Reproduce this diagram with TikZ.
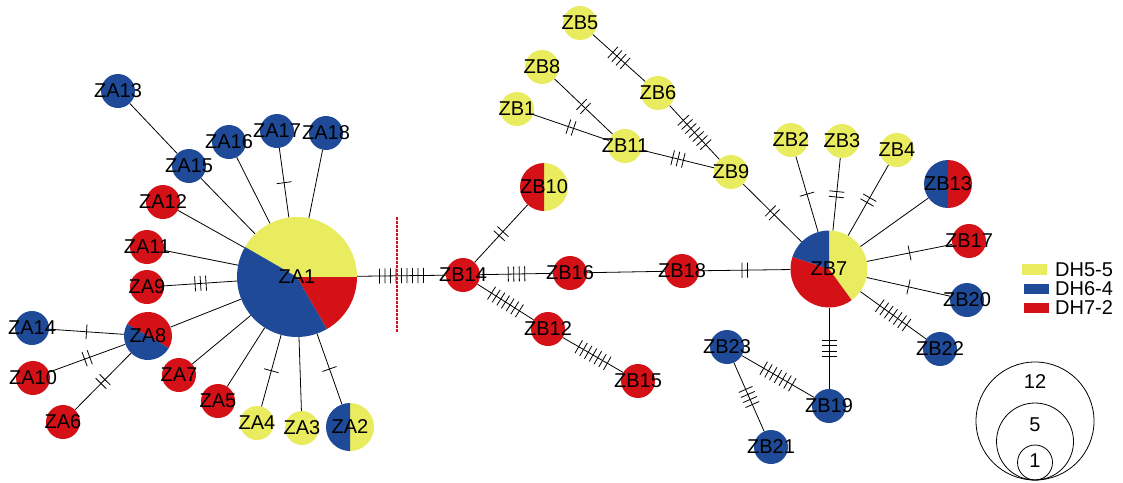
\documentclass[tikz,border=0pt]{standalone}
\usepackage{fontspec}
\setmainfont{Liberation Sans}
\usetikzlibrary{decorations.markings}
\definecolor{hy}{HTML}{EAEC60}
\definecolor{hb}{HTML}{1F4A98}
\definecolor{hr}{HTML}{D51118}
\newcommand\pieslice[5]{\fill[#5] (#1) -- ++(#2:#4) arc[start angle=#2, end angle=#3, radius=#4] -- cycle;}
\newcommand\hl[1]{\makebox[0pt][c]{#1}}
\tikzset{
 hap/.style={circle, inner sep=0pt, minimum size=#1, font=\fontsize{20}{24}\selectfont},
 lab/.style={inner sep=0pt, font=\fontsize{20}{24}\selectfont},
 edge/.style={line width=0.8pt},
 ring/.style={circle, draw, line width=0.8pt, inner sep=0pt, minimum size=#1},
 tk/.style={postaction={decorate,decoration={markings,mark=at position 0.5 with {\foreach \i in {1,...,#1}{\draw[line width=0.8pt] ({(\i-(#1+1)/2)*5.5pt},-7.5pt)--({(\i-(#1+1)/2)*5.5pt},7.5pt);}}}}},
}
\begin{document}
\begin{tikzpicture}[x=1pt,y=-1pt]
\useasboundingbox (0,0) rectangle (1123,482);
% pie slices
\pieslice{297,277}{0}{150}{60pt}{hy}
\pieslice{297,277}{150}{300}{60pt}{hb}
\pieslice{297,277}{300}{360}{60pt}{hr}
\pieslice{148,336}{-30}{150}{24pt}{hr}
\pieslice{148,336}{150}{330}{24pt}{hb}
\pieslice{350,427}{-90}{90}{24pt}{hy}
\pieslice{350,427}{90}{270}{24pt}{hb}
\pieslice{544,187}{-90}{90}{24pt}{hy}
\pieslice{544,187}{90}{270}{24pt}{hr}
\pieslice{948,184}{-90}{90}{24pt}{hr}
\pieslice{948,184}{90}{270}{24pt}{hb}
\pieslice{829,269}{-54}{90}{38.5pt}{hy}
\pieslice{829,269}{90}{162}{38.5pt}{hb}
\pieslice{829,269}{162}{306}{38.5pt}{hr}
% nodes
\node[hap=120pt] (ZA1) at (297,277) {\hl{ZA1}};
\node[hap=48pt] (ZA8) at (148,336) {\hl{ZA8}};
\node[hap=48pt] (ZA2) at (350,427) {\hl{ZA2}};
\node[hap=48pt] (ZB10) at (544,187) {\hl{ZB10}};
\node[hap=48pt] (ZB13) at (948,184) {\hl{ZB13}};
\node[hap=77pt] (ZB7) at (829,269) {\hl{ZB7}};
\node[hap=34pt,fill=hb] (ZA13) at (118,91) {\hl{ZA13}};
\node[hap=34pt,fill=hb] (ZA15) at (189,166) {\hl{ZA15}};
\node[hap=34pt,fill=hb] (ZA16) at (229,142) {\hl{ZA16}};
\node[hap=34pt,fill=hb] (ZA17) at (277,131) {\hl{ZA17}};
\node[hap=34pt,fill=hb] (ZA18) at (326,133) {\hl{ZA18}};
\node[hap=34pt,fill=hr] (ZA12) at (163,202) {\hl{ZA12}};
\node[hap=34pt,fill=hr] (ZA11) at (147,247) {\hl{ZA11}};
\node[hap=34pt,fill=hr] (ZA9) at (147,287) {\hl{ZA9}};
\node[hap=34pt,fill=hb] (ZA14) at (32,328) {\hl{ZA14}};
\node[hap=34pt,fill=hr] (ZA10) at (33,378) {\hl{ZA10}};
\node[hap=34pt,fill=hr] (ZA6) at (63,422) {\hl{ZA6}};
\node[hap=34pt,fill=hr] (ZA7) at (179,375) {\hl{ZA7}};
\node[hap=34pt,fill=hr] (ZA5) at (218,401) {\hl{ZA5}};
\node[hap=34pt,fill=hy] (ZA4) at (257,423) {\hl{ZA4}};
\node[hap=34pt,fill=hy] (ZA3) at (302,428) {\hl{ZA3}};
\node[hap=34pt,fill=hr] (ZB14) at (463,275) {\hl{ZB14}};
\node[hap=34pt,fill=hr] (ZB16) at (570,273) {\hl{ZB16}};
\node[hap=34pt,fill=hr] (ZB12) at (548,329) {\hl{ZB12}};
\node[hap=34pt,fill=hr] (ZB15) at (638,381) {\hl{ZB15}};
\node[hap=34pt,fill=hr] (ZB18) at (682,271) {\hl{ZB18}};
\node[hap=34pt,fill=hy] (ZB5) at (580,23) {\hl{ZB5}};
\node[hap=34pt,fill=hy] (ZB8) at (542,67) {\hl{ZB8}};
\node[hap=34pt,fill=hy] (ZB1) at (517,109) {\hl{ZB1}};
\node[hap=34pt,fill=hy] (ZB6) at (658,93) {\hl{ZB6}};
\node[hap=34pt,fill=hy] (ZB11) at (625,146) {\hl{ZB11}};
\node[hap=34pt,fill=hy] (ZB9) at (731,172) {\hl{ZB9}};
\node[hap=34pt,fill=hy] (ZB2) at (791,140) {\hl{ZB2}};
\node[hap=34pt,fill=hy] (ZB3) at (842,141) {\hl{ZB3}};
\node[hap=34pt,fill=hy] (ZB4) at (897,150) {\hl{ZB4}};
\node[hap=34pt,fill=hr] (ZB17) at (969,241) {\hl{ZB17}};
\node[hap=34pt,fill=hb] (ZB20) at (967,300) {\hl{ZB20}};
\node[hap=34pt,fill=hb] (ZB22) at (940,349) {\hl{ZB22}};
\node[hap=34pt,fill=hb] (ZB23) at (727,347) {\hl{ZB23}};
\node[hap=34pt,fill=hb] (ZB19) at (829,406) {\hl{ZB19}};
\node[hap=34pt,fill=hb] (ZB21) at (771,447) {\hl{ZB21}};
% edges
\draw[edge] (ZA13) -- (ZA15);
\draw[edge] (ZA15) -- (ZA1);
\draw[edge] (ZA16) -- (ZA1);
\draw[edge,tk=1] (ZA17) -- (ZA1);
\draw[edge] (ZA18) -- (ZA1);
\draw[edge] (ZA12) -- (ZA1);
\draw[edge] (ZA11) -- (ZA1);
\draw[edge,tk=3] (ZA9) -- (ZA1);
\draw[edge] (ZA8) -- (ZA1);
\draw[edge,tk=1] (ZA14) -- (ZA8);
\draw[edge,tk=2] (ZA10) -- (ZA8);
\draw[edge,tk=2] (ZA6) -- (ZA8);
\draw[edge] (ZA7) -- (ZA1);
\draw[edge] (ZA5) -- (ZA1);
\draw[edge,tk=1] (ZA4) -- (ZA1);
\draw[edge] (ZA3) -- (ZA1);
\draw[edge,tk=1] (ZA2) -- (ZA1);
\draw[edge,tk=9] (ZA1) -- (ZB14);
\draw[edge,tk=2] (ZB14) -- (ZB10);
\draw[edge,tk=4] (ZB14) -- (ZB16);
\draw[edge,tk=7] (ZB14) -- (ZB12);
\draw[edge,tk=7] (ZB12) -- (ZB15);
\draw[edge] (ZB16) -- (ZB18);
\draw[edge,tk=2] (ZB18) -- (ZB7);
\draw[edge,tk=4] (ZB5) -- (ZB6);
\draw[edge,tk=7] (ZB6) -- (ZB9);
\draw[edge,tk=2] (ZB8) -- (ZB11);
\draw[edge,tk=2] (ZB1) -- (ZB11);
\draw[edge,tk=3] (ZB11) -- (ZB9);
\draw[edge,tk=2] (ZB9) -- (ZB7);
\draw[edge,tk=1] (ZB2) -- (ZB7);
\draw[edge,tk=2] (ZB3) -- (ZB7);
\draw[edge,tk=2] (ZB4) -- (ZB7);
\draw[edge] (ZB13) -- (ZB7);
\draw[edge,tk=1] (ZB17) -- (ZB7);
\draw[edge,tk=1] (ZB20) -- (ZB7);
\draw[edge,tk=7] (ZB7) -- (ZB22);
\draw[edge,tk=4] (ZB7) -- (ZB19);
\draw[edge,tk=7] (ZB23) -- (ZB19);
\draw[edge,tk=4] (ZB23) -- (ZB21);
% separator
\draw[draw=hr, line width=1.2pt, dash pattern=on 2.5pt off 1.5pt] (397,217) -- (397,333);
% legend
\fill[hy] (1022,264) rectangle (1047,275);
\fill[hb] (1024,284) rectangle (1049,294);
\fill[hr] (1024,303) rectangle (1049,313);
\node[lab,anchor=west] (L1) at (1055,270) {DH5-5};
\node[lab,anchor=west] (L2) at (1055,289) {DH6-4};
\node[lab,anchor=west] (L3) at (1055,308) {DH7-2};
\node[ring=118pt] (S12) at (1035,421) {};
\node[ring=77pt] (S5) at (1035,441.5) {};
\node[ring=35pt] (S1) at (1035,462.5) {};
\node[lab] (T12) at (1035,382) {12};
\node[lab] (T5) at (1035,425) {5};
\node[lab] (T1) at (1035,461) {1};
\end{tikzpicture}
\end{document}
